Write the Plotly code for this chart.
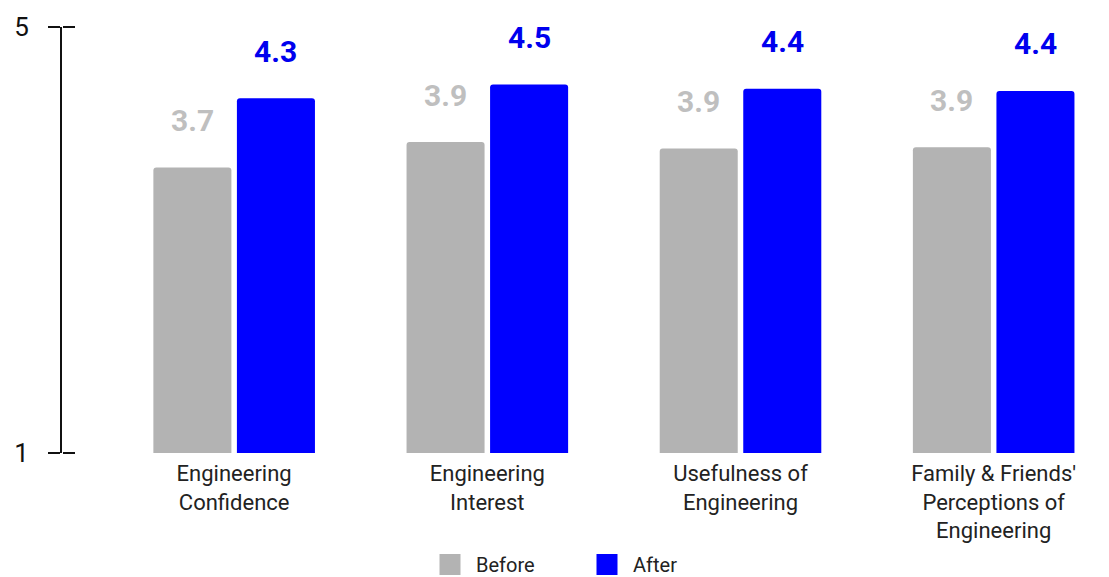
import plotly.graph_objects as go

categories = ["Engineering<br>Confidence", "Engineering<br>Interest",
              "Usefulness of<br>Engineering",
              "Family & Friends'<br>Perceptions of<br>Engineering"]
before = [3.68, 3.92, 3.86, 3.87]
after = [4.33, 4.46, 4.42, 4.40]
series_names = ["Before", "After"]
y_ticks = [1, 5]

GRAY = "#b3b3b3"
GRAY_TXT = "#bfbfbf"
BLUE = "#0000ff"
BLUE_TXT = "#0000ee"
FONT = "Roboto"

fig = go.Figure()
for name, vals, col in [(series_names[0], before, GRAY), (series_names[1], after, BLUE)]:
    fig.add_trace(go.Bar(x=categories, y=vals, name=name, marker_color=col,
                         marker_line_width=0, showlegend=False, hoverinfo="skip"))

# legend-only markers (larger squares)
for name, col in [(series_names[0], GRAY), (series_names[1], BLUE)]:
    fig.add_trace(go.Scatter(x=[None], y=[None], name=name, mode="markers",
                             marker=dict(symbol="square", size=16, color=col,
                                         line=dict(color=col, width=5)),
                             yaxis="y2"))

off = 0.165
ann = []
for i, (b, a) in enumerate(zip(before, after)):
    ann.append(dict(x=i - off, y=b, xref="x", yref="y", text=f"{b:.1f}",
                    showarrow=False, yanchor="middle", yshift=47,
                    font=dict(family=FONT, size=30, color=GRAY_TXT, weight="bold")))
    ann.append(dict(x=i + off, y=a, xref="x", yref="y", text=f"{a:.1f}",
                    showarrow=False, yanchor="middle", yshift=47,
                    font=dict(family=FONT, size=30, color=BLUE_TXT, weight="bold")))

fig.update_layout(
    width=1101, height=569,
    margin=dict(l=54, r=9, t=19, b=124, autoexpand=False),
    plot_bgcolor="white", paper_bgcolor="white",
    barmode="group", bargap=0.34, bargroupgap=0.066, barcornerradius=3,
    font=dict(family=FONT, color="#222"),
    xaxis=dict(range=[-0.68, 3.42], showline=False, ticks="", showgrid=False,
               automargin=False, ticklabelstandoff=5,
               tickfont=dict(family=FONT, size=22, color="#222"), fixedrange=True),
    yaxis=dict(range=[1, 5], tickvals=y_ticks, showgrid=False, zeroline=False,
               automargin=False,
               showline=True, linecolor="#111", linewidth=2,
               ticks="outside", ticklen=12, tickwidth=2, tickcolor="#111",
               ticklabelstandoff=14,
               tickfont=dict(family=FONT, size=26, color="#111")),
    yaxis2=dict(range=[1, 5], tickvals=y_ticks, overlaying="y", side="right",
                anchor="free", position=0, automargin=False,
                showgrid=False, zeroline=False, showline=False,
                ticks="outside", ticklen=12, tickwidth=2, tickcolor="#111",
                showticklabels=False),
    legend=dict(orientation="h", x=0.5, xanchor="center", y=-0.262, yanchor="middle",
                font=dict(family=FONT, size=20, color="#222"),
                itemwidth=42, entrywidth=100, entrywidthmode="pixels",
                tracegroupgap=0,
                itemclick=False, itemdoubleclick=False),
    annotations=ann,
)

fig.write_html("out.html")
